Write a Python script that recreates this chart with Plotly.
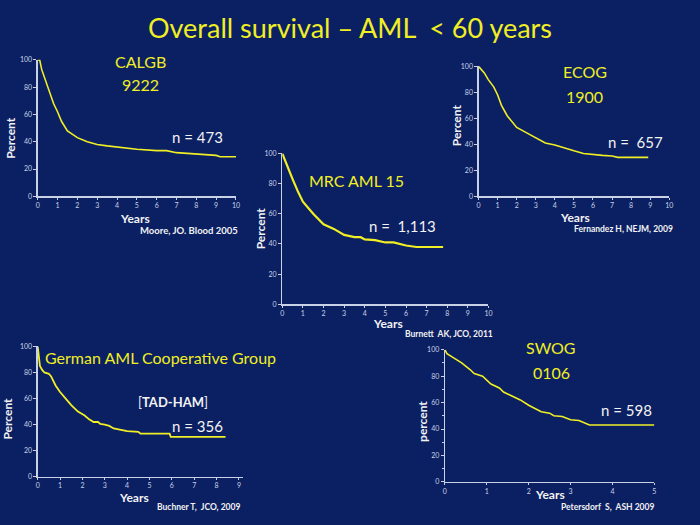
import plotly.graph_objects as go

W, H = 700, 525
BG = "#0b2063"
YEL = "#f0ee24"
AXC = "#c9d1e6"
WHITE = "#f2f2f2"
FONT = "Lato"

# ---- data (years, percent) ----
calgb_x = [0, 0.1, 0.2, 0.4, 0.6, 0.8, 1.0, 1.2, 1.5, 1.8, 2.0, 2.5, 3.0, 3.5, 4.0, 4.5, 5.0, 6.0, 6.5, 7.0, 8.0, 9.0, 9.2, 10.0]
calgb_y = [100, 100, 93, 85, 76, 68, 62, 55, 48, 45, 43, 40, 38, 37, 36, 35.5, 34.5, 33.5, 33.5, 32, 31, 30, 29, 29]

mrc_x = [0, 0.25, 0.5, 0.75, 1.0, 1.5, 2.0, 2.5, 3.0, 3.5, 3.8, 4.0, 4.5, 5.0, 5.4, 6.0, 6.5, 7.0, 7.8]
mrc_y = [100, 91, 83, 75, 68, 60, 53, 50, 46, 44.5, 44.5, 43, 42.5, 41, 41, 39, 38, 38, 38]

ecog_x = [0, 0.3, 0.5, 0.8, 1.0, 1.2, 1.5, 2.0, 2.5, 3.0, 3.5, 4.0, 4.5, 5.0, 5.5, 6.0, 6.5, 7.0, 7.3, 8.0, 8.9]
ecog_y = [100, 95, 90, 84, 78, 70, 62, 53, 49, 45, 41, 39.5, 37, 35, 33, 32, 31.5, 31, 30, 30, 30]

german_x = [0, 0.05, 0.1, 0.2, 0.3, 0.5, 0.6, 0.8, 1.0, 1.3, 1.5, 1.8, 2.0, 2.1, 2.3, 2.5, 2.7, 2.8, 3.0, 3.2, 3.4, 3.8, 4.0, 4.5, 4.6, 5.0, 5.9, 5.95, 7.0, 8.4]
german_y = [100, 92, 85, 82, 80, 79, 77, 70, 65, 59, 55, 50, 48, 47, 44, 42, 42, 40.5, 40, 39, 37, 36, 35, 34.5, 33, 33, 33, 30.5, 30.5, 30.5]

swog_x = [0, 0.05, 0.2, 0.4, 0.6, 0.7, 0.9, 1.0, 1.1, 1.3, 1.4, 1.6, 1.8, 2.0, 2.2, 2.3, 2.5, 2.6, 2.8, 2.9, 3.0, 3.2, 3.4, 3.45, 5.0]
swog_y = [100, 97, 94, 90, 85, 82, 80, 77, 74, 71, 68, 65, 62, 58, 55, 53, 52, 50, 49.5, 48, 47, 46.5, 44, 43, 43]

# panels: name, x data, y data, x range, x ticks, pixel box (left, right, bottom, top), line width
panels = [
    ("CALGB", calgb_x, calgb_y, [0, 10], list(range(0, 11)), (36, 236, 194.3, 55.7), 1.6),
    ("MRC", mrc_x, mrc_y, [0, 10], list(range(0, 11)), (282.7, 490.7, 304, 150.7), 2.2),
    ("ECOG", ecog_x, ecog_y, [0, 10], list(range(0, 11)), (480.7, 673, 194.3, 62.3), 1.6),
    ("German", german_x, german_y, [0, 9.2], list(range(0, 10)), (36, 243.5, 479, 346.7), 1.8),
    ("SWOG", swog_x, swog_y, [0, 5], list(range(0, 6)), (446.7, 658, 484.3, 350), 1.6),
]

fig = go.Figure()
layout = dict(
    width=W, height=H, margin=dict(l=0, r=0, t=0, b=0),
    paper_bgcolor=BG, plot_bgcolor=BG, showlegend=False,
)
tickfont = dict(family=FONT, size=7, color=AXC)
for i, (name, xs, ys, xr, xt, box, lw) in enumerate(panels):
    n = i + 1
    xa = "xaxis" if n == 1 else f"xaxis{n}"
    ya = "yaxis" if n == 1 else f"yaxis{n}"
    l, r, b, t = box
    layout[xa] = dict(
        domain=[l / W, r / W], range=xr, anchor=f"y{n if n > 1 else ''}",
        tickvals=xt, showgrid=False, zeroline=False, showline=True, linecolor=AXC, linewidth=1.2,
        ticks="outside", ticklen=2, tickcolor=AXC, tickfont=tickfont, fixedrange=True,
    )
    ymin = dict(dtick=10, ticklen=2, tickcolor=AXC, ticks="outside") if name == "SWOG" else None
    yd = dict(
        domain=[1 - b / H, 1 - t / H], range=[0, 100], anchor=f"x{n if n > 1 else ''}",
        tickvals=[0, 20, 40, 60, 80, 100], showgrid=False, zeroline=False, showline=True,
        linecolor=AXC, linewidth=1.2, ticks="outside", ticklen=3, tickcolor=AXC, tickfont=tickfont,
        fixedrange=True,
    )
    if ymin:
        yd["minor"] = ymin
    layout[ya] = yd
    fig.add_trace(go.Scatter(
        x=xs, y=ys, mode="lines", line=dict(color=YEL, width=lw),
        xaxis=f"x{n if n > 1 else ''}", yaxis=f"y{n if n > 1 else ''}", hoverinfo="skip",
    ))

fig.update_layout(**layout)

def txt(x, y, s, size, color, bold=False, angle=0, xanchor="center"):
    fig.add_annotation(
        x=x / W, y=1 - y / H, xref="paper", yref="paper", text=(f"<b>{s}</b>" if bold else s),
        showarrow=False, xanchor=xanchor, yanchor="middle", textangle=angle,
        font=dict(family=FONT, size=size, color=color),
    )

# title
txt(351, 23, "Overall survival – AML  &lt; 60 years", 27, YEL)

# CALGB
txt(140, 57, "CALGB", 16, YEL)
txt(140, 81, "9222", 16, YEL)
txt(197, 134, "n = 473", 15, WHITE)
txt(9, 135, "Percent", 12, WHITE, bold=True, angle=-90)
txt(134, 217, "Years", 12, WHITE, bold=True)
txt(240, 229, "Moore, JO. Blood 2005", 9.5, WHITE, bold=True, xanchor="right")

# MRC
txt(358, 178, "MRC AML 15", 16, YEL)
txt(404, 224, "n =  1,113", 15, WHITE)
txt(261, 227, "Percent", 12, WHITE, bold=True, angle=-90)
txt(389, 323, "Years", 12, WHITE, bold=True)
txt(497, 334, "Burnett  AK, JCO, 2011", 8.5, WHITE, bold=True, xanchor="right")

# ECOG
txt(588, 68, "ECOG", 16, YEL)
txt(588, 93, "1900", 16, YEL)
txt(639, 139, "n =  657", 15, WHITE)
txt(458, 122, "Percent", 12, WHITE, bold=True, angle=-90)
txt(578, 216, "Years", 12, WHITE, bold=True)
txt(679, 227, "Fernandez H, NEJM, 2009", 8.5, WHITE, bold=True, xanchor="right")

# German
txt(160, 358, "German AML Cooperative Group", 16, YEL)
txt(172, 403, "[<b>TAD-HAM</b>]", 13, WHITE)
txt(197, 428, "n = 356", 15, WHITE)
txt(6, 420, "Percent", 12, WHITE, bold=True, angle=-90)
txt(133, 500, "Years", 12, WHITE, bold=True)
txt(242, 510, "Buchner T,  JCO, 2009", 8.5, WHITE, bold=True, xanchor="right")

# SWOG
txt(554, 348, "SWOG", 16, YEL)
txt(554, 373, "0106", 16, YEL)
txt(630, 411, "n = 598", 15, WHITE)
txt(424, 423, "percent", 12, WHITE, bold=True, angle=-90)
txt(553, 497, "Years", 12, WHITE, bold=True)
txt(660, 510, "Petersdorf  S,  ASH 2009", 8.5, WHITE, bold=True, xanchor="right")

fig.write_html(
    "out.html",
    config={"displayModeBar": False, "staticPlot": True},
    post_script="document.body.style.margin='0';document.body.style.background='" + BG + "';",
)
